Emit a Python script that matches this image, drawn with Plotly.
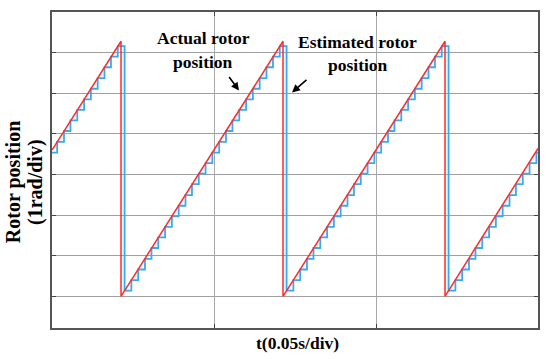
import plotly.graph_objects as go

# Actual rotor position (red sawtooth) vertices: time [s], angle [rad]
actual_t = [0.0, 0.0213, 0.0213, 0.0713, 0.0713, 0.1213, 0.1213, 0.15]
actual_v = [3.60, 6.28, 0.0, 6.28, 0.0, 6.28, 0.0, 3.64]

# Estimated rotor position (blue staircase) samples: time [s], angle [rad]
est_t = [0.0000, 0.0016, 0.0037, 0.0057, 0.0078, 0.0099, 0.0120, 0.0141, 0.0162, 0.0182, 0.0203,
         0.0224, 0.0245, 0.0266, 0.0287, 0.0307, 0.0328, 0.0349, 0.0370, 0.0391, 0.0412, 0.0432, 0.0453,
         0.0474, 0.0495, 0.0516, 0.0537, 0.0557, 0.0578, 0.0599, 0.0620, 0.0641, 0.0662, 0.0682, 0.0703,
         0.0724, 0.0745, 0.0766, 0.0787, 0.0807, 0.0828, 0.0849, 0.0870, 0.0891, 0.0912, 0.0932, 0.0953,
         0.0974, 0.0995, 0.1016, 0.1037, 0.1057, 0.1078, 0.1099, 0.1120, 0.1141, 0.1162, 0.1182, 0.1203,
         0.1224, 0.1245, 0.1266, 0.1287, 0.1307, 0.1328, 0.1349, 0.1370, 0.1391, 0.1412, 0.1432, 0.1453,
         0.1474, 0.1495, 0.1500]
est_v = [3.54, 3.80, 4.07, 4.33, 4.59, 4.85, 5.11, 5.37, 5.64, 5.90, 6.16,
         0.14, 0.40, 0.66, 0.92, 1.19, 1.45, 1.71, 1.97, 2.23, 2.49, 2.76, 3.02,
         3.28, 3.54, 3.80, 4.07, 4.33, 4.59, 4.85, 5.11, 5.37, 5.64, 5.90, 6.16,
         0.14, 0.40, 0.66, 0.92, 1.19, 1.45, 1.71, 1.97, 2.23, 2.49, 2.76, 3.02,
         3.28, 3.54, 3.80, 4.07, 4.33, 4.59, 4.85, 5.11, 5.37, 5.64, 5.90, 6.16,
         0.14, 0.40, 0.66, 0.92, 1.19, 1.45, 1.71, 1.97, 2.23, 2.49, 2.76, 3.02,
         3.28, 3.54, 3.54]

x_grid = [0.0, 0.05, 0.10, 0.15]
y_grid = [0, 1, 2, 3, 4, 5, 6]
ref_marker_t = [-0.0013]
ref_marker_v = [0]

FONT = "Liberation Serif, Times New Roman, serif"

fig = go.Figure()
fig.add_trace(go.Scatter(x=est_t, y=est_v, mode="lines", line=dict(color="#3aa9f2", width=1.8, shape="hv"),
                         showlegend=False, hoverinfo="skip"))
fig.add_trace(go.Scatter(x=actual_t, y=actual_v, mode="lines", line=dict(color="#ff2b2b", width=1.5),
                         showlegend=False, hoverinfo="skip"))
fig.add_trace(go.Scatter(x=ref_marker_t, y=ref_marker_v, mode="markers",
                         marker=dict(symbol="triangle-right", size=7, color="black"),
                         cliponaxis=False, showlegend=False, hoverinfo="skip"))

def txt(s, x, y, size=17.5, angle=0):
    fig.add_annotation(text="<b>%s</b>" % s, x=x, y=y, xref="paper", yref="paper", showarrow=False,
                       xanchor="center", yanchor="middle", textangle=angle,
                       font=dict(family=FONT, size=size, color="black"))

txt("Actual rotor", 0.3107, 0.918)
txt("position", 0.3107, 0.843)
txt("Estimated rotor", 0.6296, 0.906)
txt("position", 0.6296, 0.833)
txt("t(0.05s/div)", 0.506, -0.047)
txt("Rotor position", -0.080, 0.462, size=20, angle=-90)
txt("(1rad/div)", -0.035, 0.462, size=20, angle=-90)

fig.add_annotation(text="", x=0.3848, y=0.7516, xref="paper", yref="paper", showarrow=True,
                   ax=-11, ay=-15, arrowhead=2, arrowsize=1, arrowwidth=1.6, arrowcolor="black")
fig.add_annotation(text="", x=0.4938, y=0.7453, xref="paper", yref="paper", showarrow=True,
                   ax=16, ay=-14, arrowhead=2, arrowsize=1, arrowwidth=1.6, arrowcolor="black")

fig.update_xaxes(range=[0, 0.15], tickvals=x_grid, showticklabels=False, showgrid=True,
                 gridcolor="#a8a8a8", gridwidth=1, zeroline=False, showline=True, linecolor="#555555",
                 linewidth=1.5, mirror="ticks", ticks="inside", ticklen=4, tickcolor="#444444")
fig.update_yaxes(range=[-0.78, 7.0], tickvals=y_grid, showticklabels=False, showgrid=True,
                 gridcolor="#a0a0a0", gridwidth=1, zeroline=False, showline=True, linecolor="#555555",
                 linewidth=1.5, mirror="ticks", ticks="inside", ticklen=4, tickcolor="#444444")

fig.update_layout(width=550, height=359, margin=dict(l=52, r=12, t=10, b=31),
                  plot_bgcolor="white", paper_bgcolor="white")

fig.write_html("out.html", config={"displayModeBar": False},
               post_script="document.body.style.margin='0';document.body.style.padding='0';")
